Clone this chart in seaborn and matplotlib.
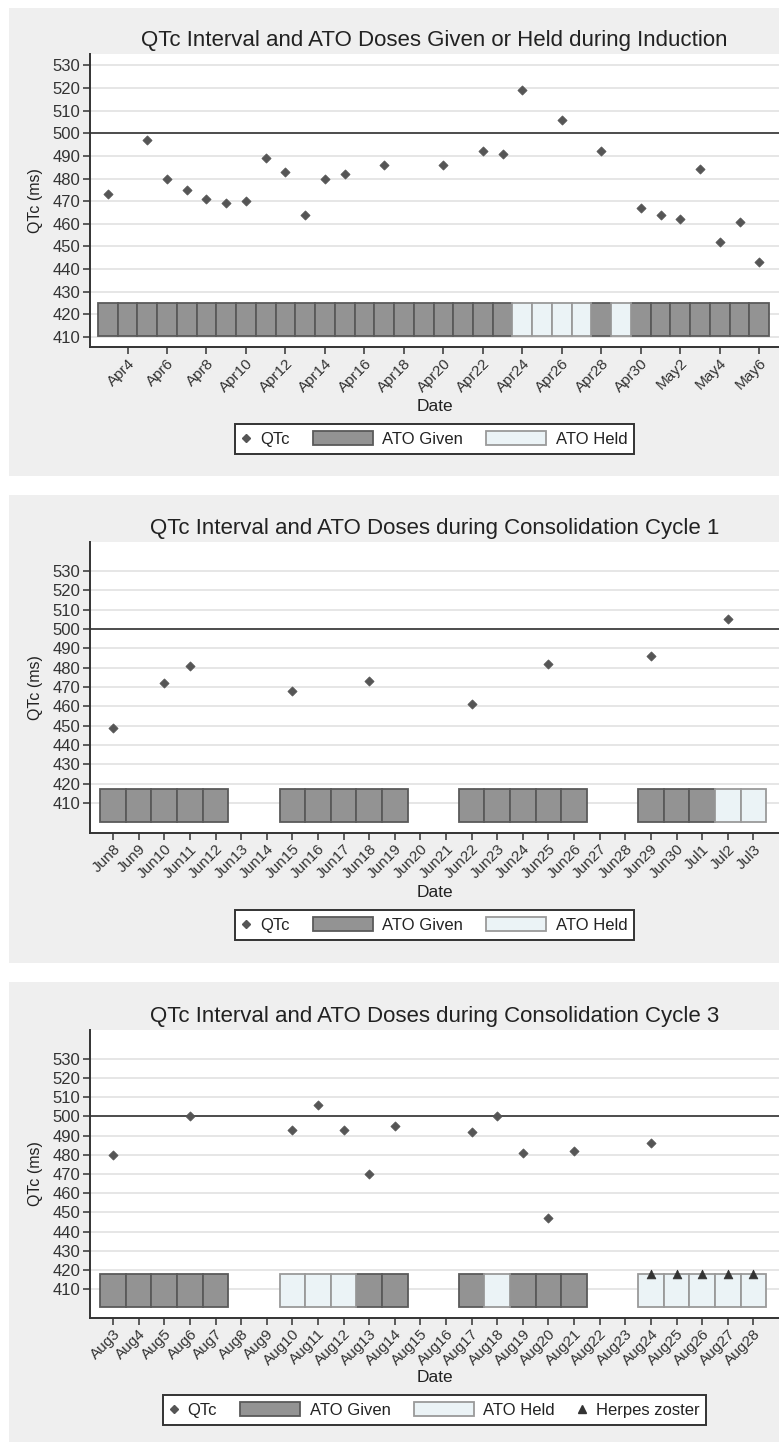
import matplotlib
matplotlib.use('Agg')
import matplotlib.pyplot as plt
from matplotlib.patches import Patch, Rectangle
from matplotlib.lines import Line2D
from matplotlib.legend_handler import HandlerLine2D
import seaborn as sns
import pandas as pd

# calendar of each panel (year is arbitrary, only day/month are shown)
ind_start, ind_end = '2015-04-03', '2015-05-06'
c1_start, c1_end = '2015-06-08', '2015-07-03'
c3_start, c3_end = '2015-08-03', '2015-08-28'

# ATO status per day: G = given, H = held, . = no dose
ind_ato = 'GGGGGGGGGGGGGGGGGGGGGHHHHGHGGGGGGG'
c1_ato = 'GGGGG..GGGGG..GGGGG..GGGHH'
c3_ato = 'GGGGG..HHHGG..GHGGG..HHHHH'

# QTc measurements
ind_qtc_dates = ['2015-04-03', '2015-04-05', '2015-04-06', '2015-04-07', '2015-04-08',
                 '2015-04-09', '2015-04-10', '2015-04-11', '2015-04-12', '2015-04-13',
                 '2015-04-14', '2015-04-15', '2015-04-17', '2015-04-20', '2015-04-22',
                 '2015-04-23', '2015-04-24', '2015-04-26', '2015-04-28', '2015-04-30',
                 '2015-05-01', '2015-05-02', '2015-05-03', '2015-05-04', '2015-05-05',
                 '2015-05-06']
ind_qtc = [473, 497, 480, 475, 471, 469, 470, 489, 483, 464, 480, 482, 486,
           486, 492, 491, 519, 506, 492, 467, 464, 462, 484, 452, 461, 443]

c1_qtc_dates = ['2015-06-08', '2015-06-10', '2015-06-11', '2015-06-15', '2015-06-18',
                '2015-06-22', '2015-06-25', '2015-06-29', '2015-07-02']
c1_qtc = [449, 472, 481, 468, 473, 461, 482, 486, 505]

c3_qtc_dates = ['2015-08-03', '2015-08-06', '2015-08-10', '2015-08-11', '2015-08-12',
                '2015-08-13', '2015-08-14', '2015-08-17', '2015-08-18', '2015-08-19',
                '2015-08-20', '2015-08-21', '2015-08-24']
c3_qtc = [480, 500, 493, 506, 493, 470, 495, 492, 500, 481, 447, 482, 486]

c3_herpes_dates = ['2015-08-24', '2015-08-25', '2015-08-26', '2015-08-27', '2015-08-28']
c3_herpes = [418, 418, 418, 418, 418]

titles = ['QTc Interval and ATO Doses Given or Held during Induction',
          'QTc Interval and ATO Doses during Consolidation Cycle 1',
          'QTc Interval and ATO Doses during Consolidation Cycle 3']

GIVEN = '#939393'
HELD = '#EBF3F6'
DOT = '#555555'
PANEL_BG = '#EFEFEF'

sns.set_theme(style='ticks')
plt.rcParams['font.family'] = ['Liberation Sans', 'DejaVu Sans']
plt.rcParams['text.color'] = '#222222'
plt.rcParams['axes.labelcolor'] = '#222222'
plt.rcParams['xtick.color'] = '#333333'
plt.rcParams['ytick.color'] = '#333333'

W, H = 779, 1442
fig = plt.figure(figsize=(W / 100, H / 100), dpi=100)
fig.patch.set_facecolor('white')


class NarrowMarker(HandlerLine2D):
    # marker entries get a short handle box, patches keep the long one
    def legend_artist(self, legend, orig_handle, fontsize, handlebox):
        handlebox.width = 0.55 * fontsize
        return super().legend_artist(legend, orig_handle, fontsize, handlebox)


def fx(px):
    return px / W


def fy(px):
    return 1 - px / H


def draw_panel(top_bg, bot_bg, ax_top, ax_bot, start, end, status, qtc_dates, qtc,
               title, ylim, bar_lo, bar_hi, tick_every, herpes_dates=None, herpes=None):
    fig.patches.append(Rectangle((fx(9), fy(bot_bg)), fx(W - 9), (bot_bg - top_bg) / H,
                                 transform=fig.transFigure, facecolor=PANEL_BG,
                                 edgecolor='none', zorder=-10))
    ax = fig.add_axes([fx(90), fy(ax_bot), fx(W - 90), (ax_bot - ax_top) / H])
    ax.set_facecolor('white')

    days = pd.date_range(start, end)
    pos = {d: i for i, d in enumerate(days)}
    n = len(days)

    given = [i for i, s in enumerate(status) if s == 'G']
    held = [i for i, s in enumerate(status) if s == 'H']
    ax.bar(given, bar_hi - bar_lo, bottom=bar_lo, width=1, color=GIVEN,
           edgecolor='#5a5a5a', linewidth=1.3, zorder=3)
    ax.bar(held, bar_hi - bar_lo, bottom=bar_lo, width=1, color=HELD,
           edgecolor='#9a9a9a', linewidth=1.3, zorder=3)

    df = pd.DataFrame({'day': [pos[pd.Timestamp(d)] for d in qtc_dates], 'qtc': qtc})
    sns.scatterplot(data=df, x='day', y='qtc', marker='D', s=22, color=DOT,
                    edgecolor=DOT, linewidth=0.5, ax=ax, zorder=5, legend=False)
    if herpes_dates is not None:
        hz = pd.DataFrame({'day': [pos[pd.Timestamp(d)] for d in herpes_dates], 'v': herpes})
        sns.scatterplot(data=hz, x='day', y='v', marker='^', s=40, color='#333333',
                        edgecolor='#333333', linewidth=0.5, ax=ax, zorder=6, legend=False)

    ax.axhline(500, color='#333333', lw=1.2, zorder=4)
    ax.set_ylim(*ylim)
    ax.set_yticks(range(410, 531, 10))
    ax.yaxis.grid(True, color='#E6E6E6', lw=1.4)
    ax.set_axisbelow(True)

    ax.set_xlim(-0.9, n)
    ticks = list(range(1 if tick_every == 2 else 0, n, tick_every))
    ax.set_xticks(ticks)
    ax.set_xticklabels([f'{days[i]:%b}{days[i].day}' for i in ticks],
                       rotation=45, ha='right', rotation_mode='anchor', fontsize=11)
    ax.tick_params(axis='y', labelsize=12, length=5, width=1.1, pad=2)
    ax.tick_params(axis='x', length=5, width=1.1, pad=1.5)

    sns.despine(ax=ax)
    for side in ['left', 'bottom']:
        ax.spines[side].set_color('#333333')
        ax.spines[side].set_linewidth(1.4)

    ax.set_title(title, fontsize=16, pad=6)
    ax.set_xlabel('Date', fontsize=12.5)
    ax.set_ylabel('QTc (ms)', fontsize=11.5)
    ax.yaxis.set_label_coords(-0.068, 0.5)
    ax.xaxis.set_label_coords(0.5, -(52 / (ax_bot - ax_top)))

    handles = [Line2D([], [], marker='D', ls='none', color=DOT, markersize=4),
               Patch(facecolor=GIVEN, edgecolor='#5a5a5a', lw=1.3),
               Patch(facecolor=HELD, edgecolor='#9a9a9a', lw=1.3)]
    labels = ['QTc', 'ATO Given', 'ATO Held']
    if herpes_dates is not None:
        handles.append(Line2D([], [], marker='^', ls='none', color='#333333', markersize=6))
        labels.append('Herpes zoster')
    leg = ax.legend(handles, labels, loc='center', ncol=len(labels),
                    bbox_to_anchor=(0.5, -(92 / (ax_bot - ax_top))),
                    handler_map={Line2D: NarrowMarker(numpoints=1)},
                    fontsize=12, frameon=True, fancybox=False, framealpha=1,
                    edgecolor='#333333', handlelength=3.6, handleheight=0.95,
                    columnspacing=1.4, handletextpad=0.55, borderpad=0.4)
    leg.get_frame().set_linewidth(1.4)
    return ax


draw_panel(8, 476, 54, 347, ind_start, ind_end, ind_ato, ind_qtc_dates, ind_qtc,
           titles[0], (405.6, 535), 410.5, 425, 2)
draw_panel(495, 963, 542, 833, c1_start, c1_end, c1_ato, c1_qtc_dates, c1_qtc,
           titles[1], (394.5, 545), 400.3, 417.3, 1)
draw_panel(982, 1442, 1030, 1318, c3_start, c3_end, c3_ato, c3_qtc_dates, c3_qtc,
           titles[2], (395, 545), 400.5, 418, 1, c3_herpes_dates, c3_herpes)

fig.savefig('out.png', dpi=100)
